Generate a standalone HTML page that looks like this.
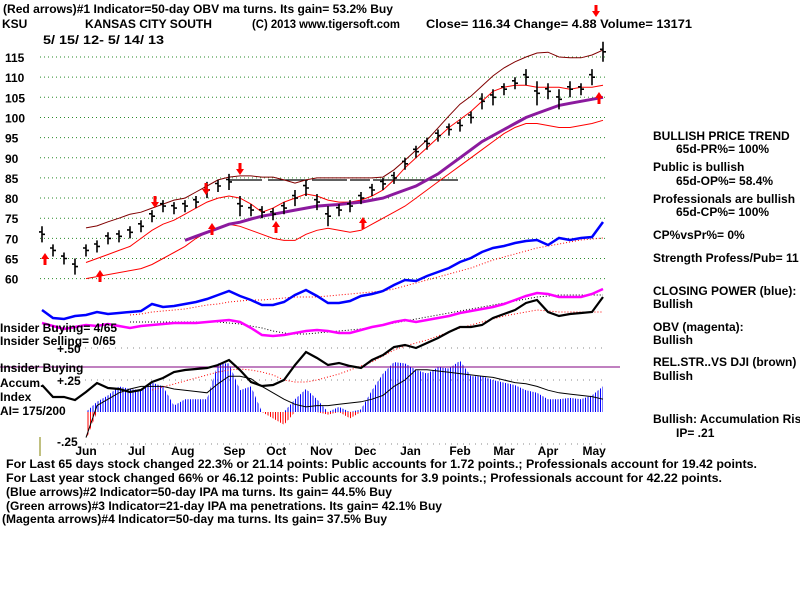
<!DOCTYPE html>
<html><head><meta charset="utf-8"><style>
html,body{margin:0;padding:0;background:#fff;}
svg{display:block;}
text{font-family:"Liberation Sans",sans-serif;font-weight:bold;font-size:12px;fill:#000;}
</style></head><body>
<svg id="chart" width="800" height="600" viewBox="0 0 800 600" xmlns="http://www.w3.org/2000/svg">
<rect width="800" height="600" fill="#fff"/>
<g>
<text x="3" y="13" textLength="390" lengthAdjust="spacingAndGlyphs">(Red arrows)#1 Indicator=50-day OBV ma turns. Its gain= 53.2% Buy</text>
<text x="2" y="28">KSU</text>
<text x="85" y="28" textLength="127" lengthAdjust="spacingAndGlyphs">KANSAS CITY SOUTH</text>
<text x="252" y="28" textLength="148" lengthAdjust="spacingAndGlyphs">(C) 2013 www.tigersoft.com</text>
<text x="426" y="28" textLength="266" lengthAdjust="spacingAndGlyphs">Close=  116.34  Change= 4.88 Volume= 13171</text>
<text x="43" y="44" textLength="121" lengthAdjust="spacingAndGlyphs">5/ 15/ 12- 5/ 14/ 13</text>
</g>
<g id="grid"></g>
<g id="ylabels"></g>
<g id="lower"></g>
<g id="price"></g>
<g>
<text x="0" y="332">Insider Buying= 4/65</text>
<text x="0" y="345">Insider Selling= 0/65</text>
<text x="57" y="353">+.50</text>
<text x="0" y="372">Insider Buying</text>
<text x="0" y="387">Accum.</text>
<text x="57" y="385">+.25</text>
<text x="0" y="401">Index</text>
<text x="0" y="415">AI= 175/200</text>
<text x="57" y="446">-.25</text>
<line x1="40" y1="437" x2="40" y2="456" stroke="#808000" stroke-width="1"/>
</g>
<g id="months"></g>
<g>
<text x="653" y="140">BULLISH PRICE TREND</text>
<text x="676" y="153">65d-PR%= 100%</text>
<text x="653" y="171">Public is bullish</text>
<text x="676" y="185">65d-OP%= 58.4%</text>
<text x="653" y="203">Professionals are bullish</text>
<text x="676" y="216">65d-CP%= 100%</text>
<text x="653" y="239">CP%vsPr%=  0%</text>
<text x="653" y="262">Strength Profess/Pub= 11</text>
<text x="653" y="295">CLOSING POWER (blue):</text>
<text x="653" y="308">Bullish</text>
<text x="653" y="331">OBV (magenta):</text>
<text x="653" y="344">Bullish</text>
<text x="653" y="366">REL.STR..VS DJI (brown)</text>
<text x="653" y="380">Bullish</text>
<text x="653" y="423">Bullish: Accumulation Risi</text>
<text x="676" y="437">IP=  .21</text>
</g>
<g>
<text x="6" y="468" textLength="751" lengthAdjust="spacingAndGlyphs">For Last 65 days stock changed  22.3% or  21.14 points:  Public accounts for  1.72 points.;  Professionals account for  19.42 points.</text>
<text x="6" y="482" textLength="716" lengthAdjust="spacingAndGlyphs">For Last year stock changed  66% or  46.12 points:  Public accounts for  3.9 points.;  Professionals account for  42.22 points.</text>
<text x="6" y="496" textLength="386" lengthAdjust="spacingAndGlyphs">(Blue arrows)#2 Indicator=50-day IPA ma turns. Its gain= 44.5% Buy</text>
<text x="6" y="510" textLength="436" lengthAdjust="spacingAndGlyphs">(Green arrows)#3 Indicator=21-day IPA ma penetrations. Its gain= 42.1% Buy</text>
<text x="2" y="523" textLength="385" lengthAdjust="spacingAndGlyphs">(Magenta arrows)#4 Indicator=50-day ma turns. Its gain= 37.5% Buy</text>
</g>
</svg>
<script>
const closes=[71,67,65,63,67,68,70,70.5,71.5,73,75.5,78,77.5,78,79,82,83,84,78,77,76.5,76,77.5,80,82.5,79,75.5,77,78,80,82,83.5,85,88.5,91.5,93.5,95.5,97,98,100,104,105,107,108.5,110,106,106.5,104.5,107,107,110,116.3];
const ranges=[4,3,3,4,3,3,3,3,3,3,3,3,3,3,3,4,3,4,5,3,3,3,3,4,4,4,5,3,3,3,3,3,3,3,3,3,3,3,3,3,4,4,3,3,4,6,4,5,4,3,4,5];
const upperBand=[null,null,null,null,72.6,73.1,74.1,75,76,76.5,77.5,78.5,79.5,80,81.5,83,84.5,85.2,85.5,85.5,85.2,85.2,84.5,83.7,84.5,85,85,85,85,85,85,85.2,87,89.4,91.9,94.4,97.4,100.4,103.3,105.3,107.8,110.3,112.3,113.8,115,116,116.2,115,114.8,114.8,115.5,116.7];
const midBand=[null,null,null,null,64,65,66,67,68,70,72,73.5,74.5,76,77.5,79,80,80.5,80,78.5,76.5,77.5,79,80,81,80.5,79.5,79,79,79.5,80.5,82,84.5,87.5,90,92.5,95,97.5,99.5,101.5,104,106.5,107.5,108,108,107.5,107.5,107.5,107,107.5,107.5,108];
const lowerBand=[null,null,null,null,60,60.5,61,61.5,62,62.5,63.5,65,66.5,68,70,71.5,72.5,73.5,73,72,71,70,69.5,69.5,71,72,72.5,72,71.5,72,73.5,75,76.5,78,80,82,84,86,88,90,92,94,96,97.5,98.5,98.5,98,97.5,97.5,98,98.5,99.3];
const ma50=[null,null,null,null,null,null,null,null,null,null,null,null,null,69.5,70.5,71.5,72.5,73.5,74,74.8,75.5,76,76.5,77,77.5,78,78.2,78.4,78.7,79,79.5,80,81,82,83,84.5,86,88,90,92,94,95.5,97,98.5,100,101,102,103,103.5,104,104.5,105];
const cpVals=[20,12,11,14,15,18,16,17,18,19,26,23,24,26,28,31,35,39,34,30,25,25,28,35,40,34,27,27,29,34,36,39,45,50,49,54,58,62,68,72,78,82,84,87,89,90,85,92,90,92,93,108];
const cpMA=[null,null,null,null,null,null,null,null,15,16,18,19,20,21,23,25,26,28,29,30,30,31,32,33,33,33,34,35,36,37,38,39,41,44,47,50,53,56,59,62,66,70,73,76,79,82,84,86,88,90,91,92];
const obvVals=[7,4,1,3,5,4,6,4,2,4,5,6,7,7,7,8,9,10,8,2,-5,-6,-5,-3,-1,0,-1,-3,-3,0,3,5,8,10,8,10,12,14,17,19,21,23,26,30,34,37,36,33,33,33,36,41];
const obvMA=[null,null,null,null,null,null,null,null,8,8,8,8,8,8,8,8,8,7,6,4,2,-1,-3,-4,-4,-3,-2,-1,0,1,3,5,7,9,11,13,15,17,19,21,23,25,27,29,31,33,34,35,35,35,35,35];
const rsVals=[15,3,3,0,8,17,12,11,8,10,18,22,28,30,31,32,35,40,30,18,14,15,20,35,48,42,35,37,34,32,40,45,53,55,52,57,62,68,73,73,75,82,86,90,97,100,88,84,86,87,88,103];
const rsMA=[null,null,null,null,null,null,null,null,null,null,10,13,16,19,22,25,28,30,31,30,28,25,20,18,18,20,23,26,30,34,38,44,50,54,57,60,64,68,72,75,78,81,84,86,88,90,89,88,88,88,88,88];
const aiVals=[null,null,null,null,-0.22,0.08,0.13,0.2,0.18,0.17,0.23,0.2,0.05,0.1,0.1,0.1,0.38,0.38,0.17,0.2,0,-0.05,-0.1,0.1,0.18,0.1,-0.02,0.04,-0.05,0.02,0.17,0.3,0.39,0.38,0.33,0.3,0.35,0.34,0.4,0.28,0.28,0.25,0.23,0.21,0.17,0.15,0.1,0.1,0.11,0.1,0.13,0.2];
const aiMA=[null,null,null,null,-0.2,0.05,0.1,0.15,0.18,0.2,0.2,0.2,0.18,0.17,0.16,0.15,0.22,0.28,0.28,0.26,0.2,0.15,0.1,0.06,0.04,0.05,0.05,0.06,0.07,0.08,0.1,0.13,0.2,0.25,0.33,0.33,0.32,0.31,0.3,0.29,0.28,0.27,0.25,0.23,0.22,0.2,0.17,0.15,0.14,0.13,0.12,0.1];
const priceTicks=[115,110,105,100,95,90,85,80,75,70,65,60];
const monthLabels=["Jun","Jul","Aug","Sep","Oct","Nov","Dec","Jan","Feb","Mar","Apr","May"];
const monthWeek=[4,8.6,12.8,17.5,21.3,25.4,29.4,33.5,38,42,46,50.2];

const NS="http://www.w3.org/2000/svg";
const xS=i=>42+i*11;
const yP=p=>57+(115-p)*4.03;
const yCP=v=>330-v;
const yOBV=v=>330-v;
const yRS=v=>400-v;
const yAI=v=>412-v*128;
function mk(tag,parent,attrs){const e=document.createElementNS(NS,tag);for(const k in attrs)e.setAttribute(k,attrs[k]);parent.appendChild(e);return e;}
const grid=document.getElementById('grid'),yl=document.getElementById('ylabels'),lower=document.getElementById('lower'),price=document.getElementById('price'),months=document.getElementById('months');

priceTicks.forEach(t=>{
  const l=mk('line',grid,{x1:40,x2:606,y1:yP(t),y2:yP(t),stroke:'#2a8a2a','stroke-dasharray':'1,3'});
  
  
  const tx=mk('text',yl,{x:5,y:yP(t)+5,'font-size':13});tx.textContent=String(t);
  
  
});
[0.5,0.25,-0.25].forEach(v=>{
  const l=mk('line',grid,{x1:85,x2:606,y1:yAI(v),y2:yAI(v),stroke:'#888','stroke-dasharray':'1,5'});
  
  
});
monthLabels.forEach((m,i)=>{
  const t=mk('text',months,{x:xS(monthWeek[i]),y:455,'text-anchor':'middle','font-size':13});t.textContent=m;
  
  
});

function linePath(arr,yf){let d='',pen=false;arr.forEach((v,i)=>{if(v===null){pen=false;return;}d+=(pen?'L':'M')+xS(i).toFixed(1)+','+yf(v).toFixed(1);pen=true;});return d;}
function series(parent,arr,yf,stroke,w,dash,name){
  const p=mk('path',parent,{d:linePath(arr,yf),fill:'none',stroke:stroke,'stroke-width':w});
  if(dash)p.setAttribute('stroke-dasharray',dash);
  
  
  return p;
}

const defs=mk('defs',lower,{});
const pb=mk('pattern',defs,{id:'pb',width:2.5,height:4,patternUnits:'userSpaceOnUse'});mk('rect',pb,{x:0,y:0,width:1,height:4,fill:'#0000ff'});
const pr=mk('pattern',defs,{id:'pr',width:2.5,height:4,patternUnits:'userSpaceOnUse'});mk('rect',pr,{x:0,y:0,width:1,height:4,fill:'#ff0000'});
function area(fn,fill,name){
  let pts=[];let first=null,last=null;
  aiVals.forEach((v,i)=>{if(v===null)return;if(first===null)first=i;last=i;pts.push(xS(i).toFixed(1)+','+yAI(fn(v)).toFixed(1));});
  pts.unshift(xS(first)+','+yAI(0));pts.push(xS(last)+','+yAI(0));
  const p=mk('polygon',lower,{points:pts.join(' '),fill:fill});
  
  
}
area(v=>Math.max(v,0),'url(#pb)','ai-positive-histogram');
area(v=>Math.min(v,0),'url(#pr)','ai-negative-histogram');
series(lower,aiMA,yAI,'#000',1,null,'ai-moving-average');
const ib=mk('line',lower,{x1:0,x2:620,y1:367,y2:367,stroke:'#800080','stroke-width':1});



series(lower,cpMA,yCP,'#ff0000',1,'1,2','closing-power-ma');
series(lower,cpVals,yCP,'#0000ff',2.5,null,'closing-power-line');
series(lower,obvMA,yOBV,'#000',1,'1,2','obv-ma');
series(lower,obvVals,yOBV,'#ff00ff',2.5,null,'obv-line');
series(lower,rsMA,yRS,'#ff0000',1,'1,2','relstr-ma');
series(lower,rsVals,yRS,'#000',2.2,null,'relstr-line');

const res=mk('path',price,{d:'M228,180H262M268,180H308M312,180H347M350,180H370M373,180H458',stroke:'#000','stroke-width':1.2,fill:'none'});


series(price,lowerBand,yP,'#ff0000',1,null,'lower-band');
series(price,midBand,yP,'#ff0000',1,null,'inner-band');
series(price,upperBand,yP,'#800000',1,null,'upper-band');
series(price,ma50,yP,'#8b1a9e',3,null,'ma50-line');
closes.forEach((c,i)=>{
  const hi=c+ranges[i]/2,lo=c-ranges[i]/2,x=xS(i);
  const b=mk('path',price,{d:`M${x},${yP(hi).toFixed(1)}V${yP(lo).toFixed(1)}M${x-3},${yP(c+0.6).toFixed(1)}H${x}M${x},${yP(c).toFixed(1)}H${x+3}`,stroke:'#000','stroke-width':1.6,fill:'none'});
  
  
});
function arrow(x,y,down,name){
  const s=down?1:-1;
  const p=mk('polygon',price,{points:`${x-1.5},${y-7*s} ${x+1.5},${y-7*s} ${x+1.5},${y-1*s} ${x+4},${y-1*s} ${x},${y+5*s} ${x-4},${y-1*s} ${x-1.5},${y-1*s}`,fill:'#ff0000'});
  
  
}
arrow(155,203,true,'sell-arrow');arrow(206,190,true,'sell-arrow');arrow(240,170,true,'sell-arrow');arrow(596,12,true,'sell-arrow');
arrow(45,258,false,'buy-arrow');arrow(100,275,false,'buy-arrow');arrow(212,228,false,'buy-arrow');arrow(276,226,false,'buy-arrow');arrow(363,222,false,'buy-arrow');arrow(599,97,false,'buy-arrow');
</script>
</body></html>
